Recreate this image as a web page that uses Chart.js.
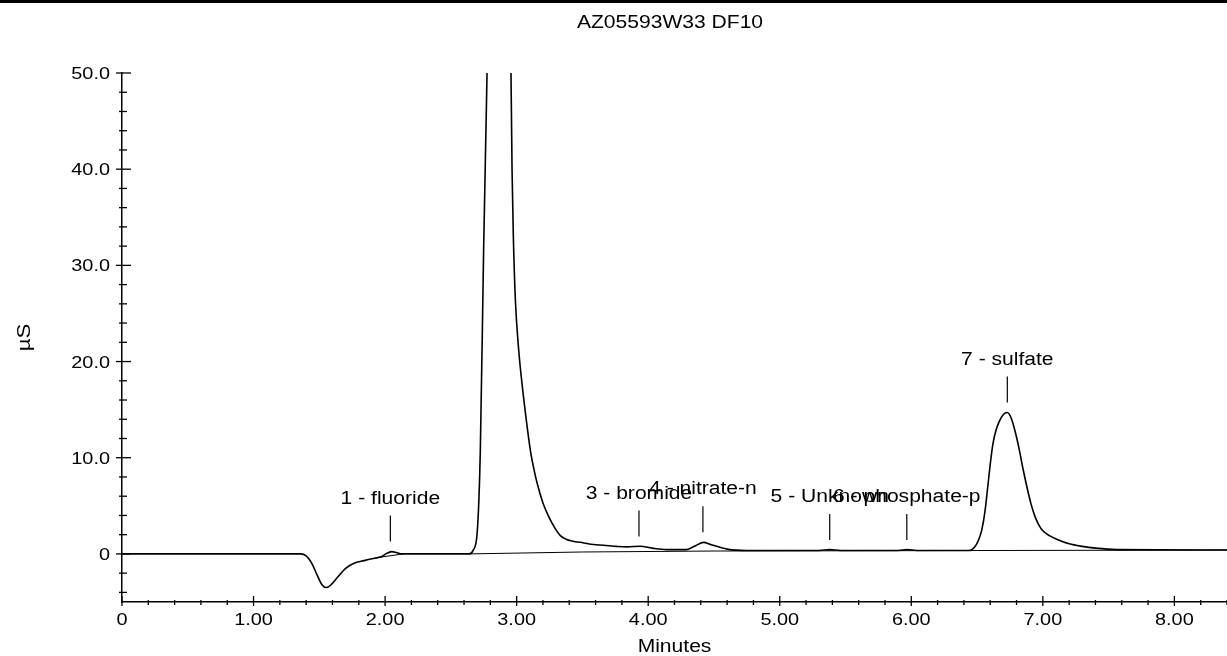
<!DOCTYPE html>
<html>
  <head>
    <meta charset="utf-8" />
    <title>AZ05593W33 DF10</title>
    <style>
      body { margin: 0; background: #fff; }
      canvas { display: block; }
    </style>
  </head>

  <body>
    <canvas id="chromChart" width="1227" height="656"></canvas>

    <script src="https://cdn.jsdelivr.net/npm/chart.js"></script>
    <script>
      const chartTitle = "AZ05593W33 DF10";
      const xTitle = "Minutes";
      const yTitle = "µS";

      // detector trace (minutes, µS)
      const signalTimes = [
        0.0, 1.36, 1.4, 1.44, 1.48, 1.52, 1.555, 1.59, 1.64, 1.7, 1.76, 1.84,
        1.92, 1.97, 2.01, 2.05, 2.09, 2.13, 2.64, 2.67, 2.7, 2.724, 2.749,
        2.775, 2.8, 2.84, 2.87, 2.91, 2.957, 2.965, 2.975, 2.99, 3.015, 3.04,
        3.07, 3.104, 3.13, 3.155, 3.2, 3.243, 3.29, 3.332, 3.38, 3.42, 3.51,
        3.583, 3.66, 3.76, 3.84, 3.94, 4.03, 4.14, 4.29, 4.36, 4.42, 4.48,
        4.6, 4.75, 5.3, 5.38, 5.46, 5.9, 5.97, 6.04, 6.44, 6.48, 6.51, 6.536,
        6.56, 6.58, 6.6, 6.62, 6.645, 6.67, 6.7, 6.73, 6.76, 6.79, 6.82, 6.85,
        6.88, 6.91, 6.94, 6.97, 7.0, 7.05, 7.11, 7.2, 7.3, 7.4, 7.56, 8.4,
      ];
      const signalValues = [
        0, 0, -0.2, -0.9, -2.1, -3.2, -3.5, -3.2, -2.4, -1.5, -1.0, -0.7,
        -0.45, -0.3, 0.05, 0.24, 0.12, 0, 0, 0.4, 2.2, 10.8, 31.6, 50, 72, 95,
        100, 80, 50, 40, 33, 26.5, 21.3, 17.8, 14.3, 10.8, 8.9, 7.4, 5.3, 3.9,
        2.7, 1.9, 1.5, 1.35, 1.14, 0.97, 0.9, 0.78, 0.73, 0.8, 0.6, 0.45,
        0.45, 0.85, 1.2, 0.95, 0.5, 0.35, 0.35, 0.45, 0.35, 0.35, 0.45, 0.35,
        0.35, 0.7, 1.4, 2.5, 4.4, 6.8, 9.3, 11.4, 12.9, 13.8, 14.5, 14.7,
        14.1, 12.7, 10.9, 8.8, 6.9, 5.2, 3.9, 3.0, 2.4, 1.9, 1.5, 1.05, 0.78,
        0.6, 0.45, 0.4,
      ];

      // integration baseline
      const baselineTimes = [1.94, 2.14, 2.3, 2.64, 3.5, 4.5, 6.45, 8.4];
      const baselineValues = [-0.38, 0, null, 0, 0.2, 0.3, 0.35, 0.4];

      // peak annotations
      const peakNames = [
        "1 - fluoride",
        "3 - bromide",
        "4 - nitrate-n",
        "5 - Unknown",
        "6 - phosphate-p",
        "7 - sulfate",
      ];
      const peakTimes = [2.04, 3.93, 4.416, 5.38, 5.966, 6.73];
      const peakHeights = [0.24, 0.76, 1.2, 0.4, 0.4, 14.7];

      const xTickValues = [0, 1, 2, 3, 4, 5, 6, 7, 8];
      const xTickLabels = ["0", "1.00", "2.00", "3.00", "4.00", "5.00", "6.00", "7.00", "8.00"];
      const yTickValues = [0, 10, 20, 30, 40, 50];
      const yTickLabels = ["0", "10.0", "20.0", "30.0", "40.0", "50.0"];

      const FONT = '"Liberation Sans", Arial, sans-serif';
      const SX = 1.17; // the scan's lettering is a little wide

      function drawText(ctx, text, x, y, size, align, angle) {
        ctx.save();
        ctx.translate(x, y);
        if (angle) ctx.rotate(angle);
        ctx.scale(SX, 1);
        ctx.font = size + "px " + FONT;
        ctx.textAlign = align;
        ctx.textBaseline = "alphabetic";
        ctx.fillStyle = "#000";
        ctx.fillText(text, 0, 0);
        ctx.restore();
      }

      function line(ctx, x1, y1, x2, y2) {
        ctx.beginPath();
        ctx.moveTo(x1, y1);
        ctx.lineTo(x2, y2);
        ctx.stroke();
      }

      const decor = {
        id: "decor",
        afterDraw(chart) {
          const ctx = chart.ctx;
          const xs = chart.scales.x;
          const ys = chart.scales.y;
          const area = chart.chartArea;

          ctx.save();
          // scan edge at the top
          ctx.fillStyle = "#000";
          ctx.fillRect(0, 0, chart.width, 3);

          ctx.strokeStyle = "#000";
          ctx.lineWidth = 1.3;

          // y ticks
          for (let v = -4; v <= 50; v += 2) {
            const py = ys.getPixelForValue(v);
            if (v % 10 === 0) line(ctx, area.left - 6, py, area.left + 9, py);
            else line(ctx, area.left - 3, py, area.left + 5, py);
          }
          yTickValues.forEach((v, i) => {
            drawText(ctx, yTickLabels[i], 110, ys.getPixelForValue(v) + 6, 17, "right");
          });

          // x ticks
          for (let k = 0; k <= 42; k++) {
            const v = k / 5;
            const px = xs.getPixelForValue(v);
            if (k % 5 === 0) line(ctx, px, area.bottom - 6, px, area.bottom + 4);
            else line(ctx, px, area.bottom - 2, px, area.bottom + 3);
          }
          xTickValues.forEach((v, i) => {
            drawText(ctx, xTickLabels[i], xs.getPixelForValue(v), 625, 17, "center");
          });

          // titles
          drawText(ctx, chartTitle, 670, 28, 18, "center");
          drawText(ctx, xTitle, (area.left + area.right) / 2, 652, 18, "center");
          drawText(ctx, yTitle, 30, (area.top + area.bottom) / 2, 19, "center", -Math.PI / 2);

          // peak labels
          ctx.lineWidth = 1.2;
          peakNames.forEach((name, i) => {
            const px = xs.getPixelForValue(peakTimes[i]);
            const py = ys.getPixelForValue(peakHeights[i]);
            line(ctx, px, py - 36, px, py - 10);
            drawText(ctx, name, px, py - 48, 18, "center");
          });
          ctx.restore();
        },
      };

      const ctx = document.getElementById("chromChart").getContext("2d");
      new Chart(ctx, {
        type: "line",
        data: {
          datasets: [
            {
              label: "signal",
              data: signalTimes.map((t, i) => ({ x: t, y: signalValues[i] })),
              borderColor: "#000",
              borderWidth: 1.6,
              pointRadius: 0,
              fill: false,
              cubicInterpolationMode: "monotone",
            },
            {
              label: "baseline",
              data: baselineTimes.map((t, i) => ({ x: t, y: baselineValues[i] })),
              borderColor: "#000",
              borderWidth: 1,
              pointRadius: 0,
              fill: false,
              tension: 0,
              spanGaps: false,
            },
          ],
        },
        options: {
          responsive: false,
          animation: false,
          devicePixelRatio: 1,
          layout: { padding: { top: 73, left: 0, right: 0, bottom: 0 } },
          plugins: {
            legend: { display: false },
            title: { display: false },
            tooltip: { enabled: false },
          },
          scales: {
            x: {
              type: "linear",
              min: 0,
              max: 8.4,
              grid: { display: false },
              border: { display: true, color: "#000", width: 1.5 },
              ticks: { display: false, stepSize: 1 },
              afterFit: (scale) => {
                scale.height = 54;
              },
            },
            y: {
              min: -5,
              max: 50,
              grid: { display: false },
              border: { display: true, color: "#000", width: 1.5 },
              ticks: { display: false, stepSize: 10 },
              afterFit: (scale) => {
                scale.width = 122;
              },
            },
          },
        },
        plugins: [decor],
      });
    </script>
  </body>
</html>
